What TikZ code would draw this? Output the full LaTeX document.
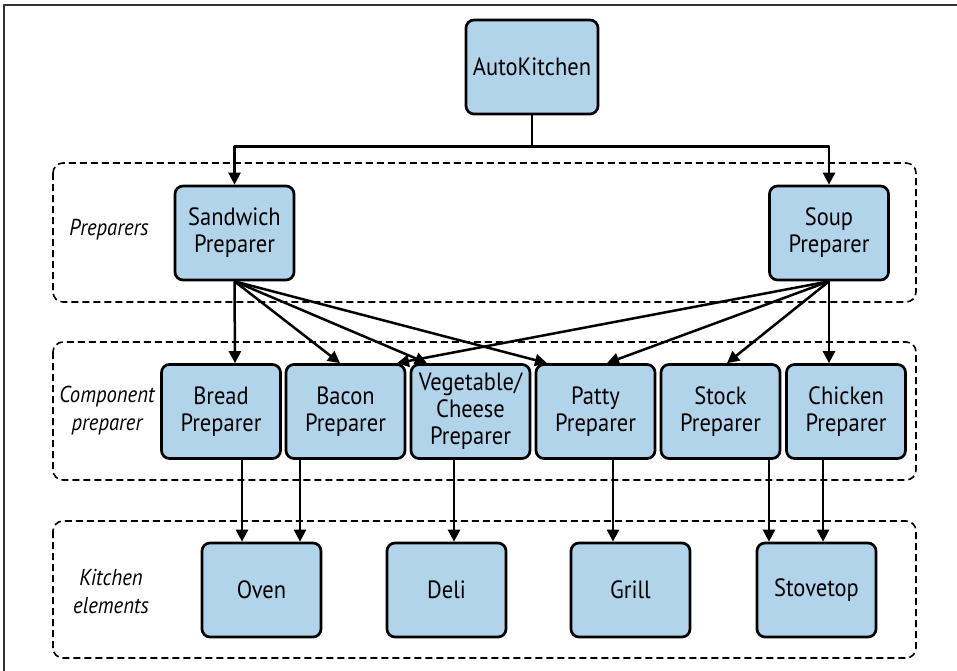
\documentclass[tikz,border=0pt]{standalone}
\usepackage{fontspec}
\setmainfont{PT Sans}[FakeStretch=0.9]
\usetikzlibrary{arrows.meta,calc}
\definecolor{boxblue}{RGB}{178,212,234}
\tikzset{
    box/.style={draw, line width=2.7pt, rounded corners=8pt, fill=boxblue, minimum width=119pt, minimum height=94pt, inner sep=0pt, align=center, font=\fontsize{25}{27}\selectfont},
    group/.style={draw, dash pattern=on 7pt off 4pt, line width=1.6pt, rounded corners=10pt},
    grouplabel/.style={align=center, font=\fontsize{23}{28}\selectfont\itshape},
    arr/.style={line width=2.5pt, -{Triangle[length=12pt,width=12pt]}},
}
\begin{document}
\begin{tikzpicture}[x=1pt, y=-1pt, line join=round]
    \useasboundingbox (0,0) rectangle (957,670);
    \draw[line width=1.2pt, black!80] (4,5) rectangle (975,690);

    % Groups
    \draw[group] (53,163) rectangle (916,302);
    \draw[group] (53,342) rectangle (916,480);
    \draw[group] (53,521) rectangle (916,658);
    \node[grouplabel] (lprep) at (109,230) {Preparers};
    \node[grouplabel] (lcomp) at (107,411) {Component\\preparer};
    \node[grouplabel] (lkitchen) at (111,591) {Kitchen\\elements};

    % Top
    \node[box, minimum width=132pt] (auto) at (532,67) {AutoKitchen};
    \node[box] (sandwich) at (234.5,233) {Sandwich\\Preparer};
    \node[box] (soup) at (829,233) {Soup\\Preparer};
    \draw[arr] (auto.south) -- ++(0,31) -| (sandwich.north);
    \draw[arr] (auto.south) -- ++(0,31) -| (soup.north);

    % Component preparers
    \foreach \name/\x/\txt in {bread/221/{Bread\\Preparer}, bacon/345.5/{Bacon\\Preparer}, veg/470.5/{Vegetable/\\Cheese\\Preparer}, patty/595.5/{Patty\\Preparer}, stock/720.5/{Stock\\Preparer}, chicken/846/{Chicken\\Preparer}} {
        \node[box] (\name) at (\x,411.5) {\txt};
    }

    % Kitchen elements
    \foreach \name/\x/\txt in {oven/261.5/Oven, deli/446.5/Deli, grill/630.5/Grill, stove/816.5/Stovetop} {
        \node[box] (\name) at (\x,590) {\txt};
    }

    % Preparers -> component preparers
    \foreach \t/\dx in {bread/14, bacon/-5.5, veg/-43.5, patty/-48.5} {
        \draw[arr] (sandwich.south) -- ([xshift=\dx pt]\t.north);
    }
    \foreach \t/\dx in {bacon/51.5, patty/11.5, stock/6.5, chicken/-17} {
        \draw[arr] (soup.south) -- ([xshift=\dx pt]\t.north);
    }

    % Component preparers -> kitchen elements
    \foreach \s/\t/\dx in {bread/oven/21, bacon/oven/-45.5, veg/deli/-16.5, patty/grill/17.5, stock/stove/48.5, chicken/stove/-23} {
        \draw[arr] ([xshift=\dx pt]\s.south) -- ([xshift=\dx pt]\s.south |- \t.north);
    }
\end{tikzpicture}
\end{document}
